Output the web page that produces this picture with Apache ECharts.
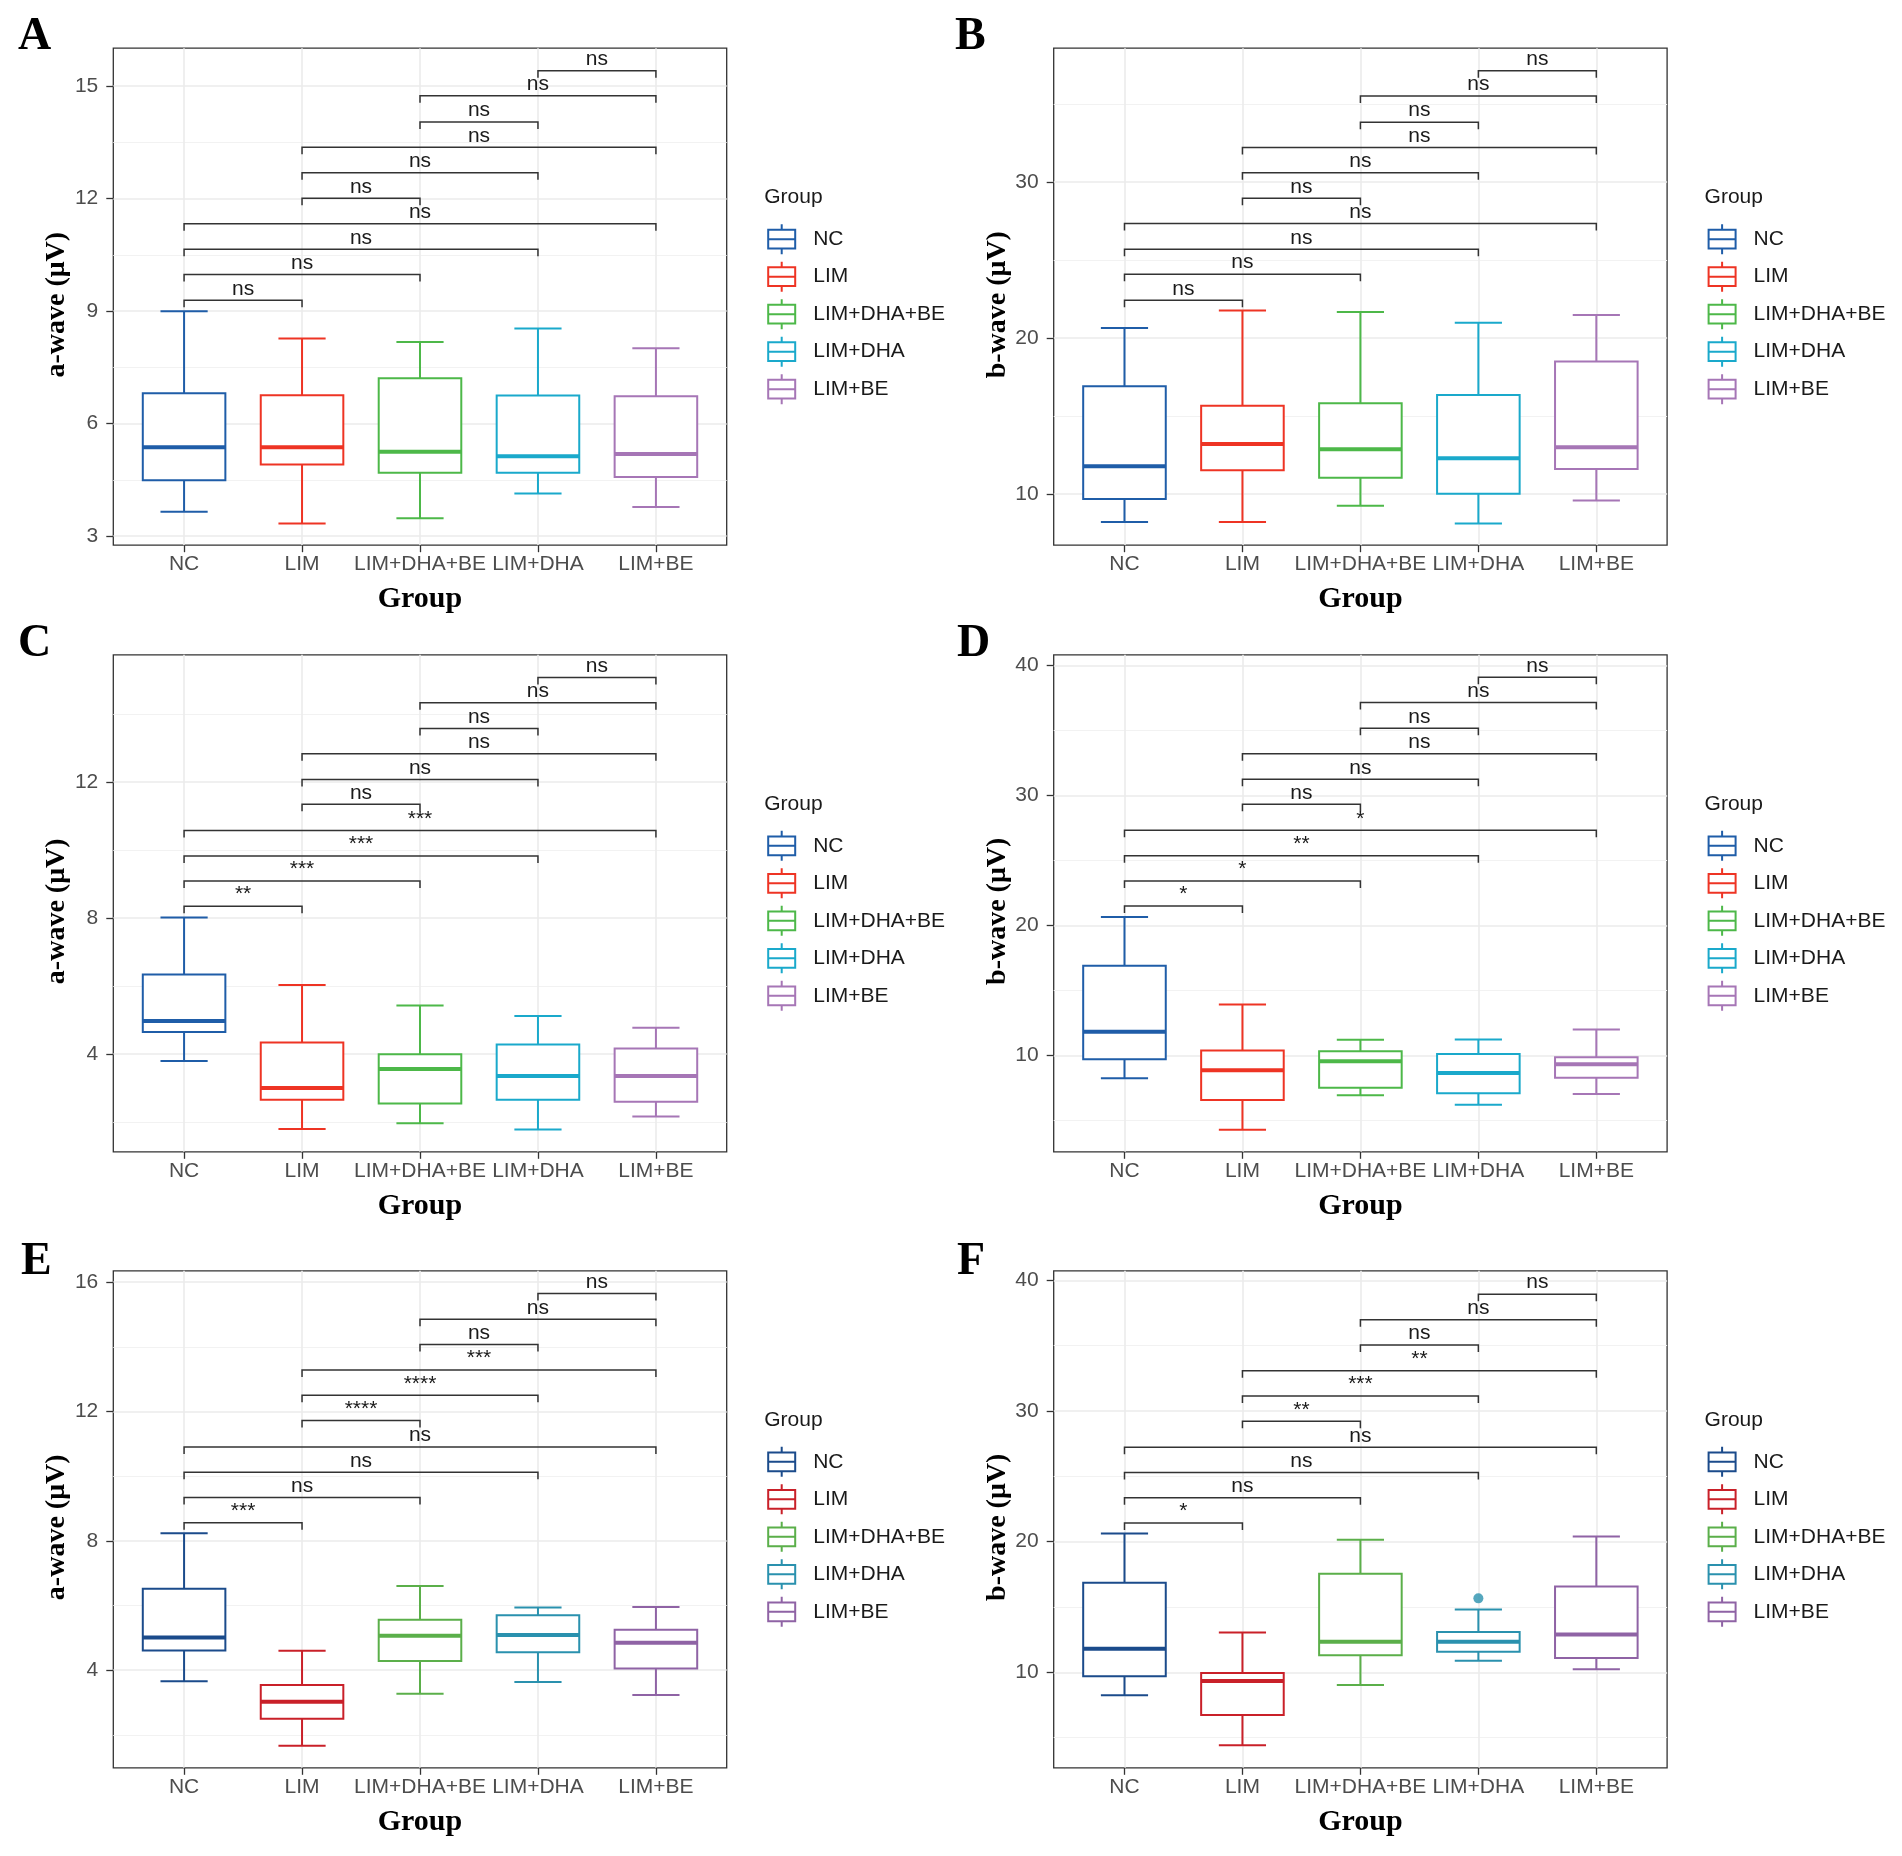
<!DOCTYPE html>
<html>
<head>
<meta charset="utf-8">
<script src="https://cdn.jsdelivr.net/npm/echarts@6/dist/echarts.min.js"></script>
<style>
html,body{margin:0;padding:0;background:#fff;}
#chart{width:1902px;height:1856px;}
</style>
</head>
<body>
<div id="chart"></div>
<script>
// ---------------- DATA ----------------
const groups = ['NC', 'LIM', 'LIM+DHA+BE', 'LIM+DHA', 'LIM+BE'];
// pairwise comparisons (1-based group positions), drawn bottom to top
const comparisons = [[1,2],[1,3],[1,4],[1,5],[2,3],[2,4],[2,5],[3,4],[3,5],[4,5]];

// box statistics per group: [min, Q1, median, Q3, max]
const boxA = [[3.65,4.49,5.37,6.81,9.00],[3.34,4.91,5.37,6.76,8.27],[3.48,4.69,5.25,7.21,8.18],[4.14,4.69,5.13,6.75,8.54],[3.78,4.58,5.19,6.73,8.01]];
const boxB = [[8.20,9.67,11.77,16.89,20.63],[8.20,11.52,13.19,15.65,21.75],[9.24,11.04,12.86,15.80,21.65],[8.10,10.00,12.28,16.33,20.96],[9.57,11.59,12.99,18.48,21.47]];
const boxC = [[3.79,4.65,4.97,6.34,8.02],[1.79,2.65,3.00,4.34,6.03],[1.96,2.54,3.56,3.99,5.43],[1.78,2.65,3.35,4.28,5.12],[2.16,2.59,3.35,4.16,4.77]];
const boxD = [[8.23,9.70,11.81,16.89,20.64],[4.27,6.56,8.84,10.37,13.91],[6.92,7.50,9.54,10.30,11.19],[6.19,7.08,8.63,10.09,11.22],[7.01,8.26,9.30,9.85,11.98]];
const boxE = [[3.66,4.61,5.01,6.52,8.23],[1.66,2.50,3.02,3.54,4.60],[3.27,4.28,5.06,5.56,6.60],[3.63,4.55,5.09,5.70,5.94],[3.23,4.05,4.85,5.25,5.95]];
const boxF = [[8.25,9.70,11.80,16.86,20.63],[4.41,6.74,9.34,9.94,13.05],[9.03,11.31,12.33,17.55,20.15],[10.88,11.57,12.33,13.08,14.80],[10.24,11.09,12.90,16.56,20.39]];

// outliers: [group position, value]
const outliersF = [[4, 15.66]];

// bracket heights (data units) for each comparison
const bracketA = [9.29,9.98,10.65,11.33,12.01,12.69,13.37,14.04,14.74,15.41];
const bracketB = [22.41,24.08,25.67,27.32,28.94,30.58,32.20,33.82,35.49,37.11];
const bracketC = [8.35,9.09,9.83,10.58,11.35,12.08,12.84,13.58,14.34,15.08];
const bracketD = [21.49,23.41,25.36,27.31,29.31,31.24,33.20,35.16,37.14,39.09];
const bracketE = [8.56,9.34,10.12,10.90,11.72,12.50,13.28,14.07,14.85,15.65];
const bracketF = [21.42,23.35,25.29,27.22,29.21,31.15,33.08,35.05,36.98,38.94];

// significance labels
const labelsA = ['ns','ns','ns','ns','ns','ns','ns','ns','ns','ns'];
const labelsB = ['ns','ns','ns','ns','ns','ns','ns','ns','ns','ns'];
const labelsC = ['**','***','***','***','ns','ns','ns','ns','ns','ns'];
const labelsD = ['*','*','**','*','ns','ns','ns','ns','ns','ns'];
const labelsE = ['***','ns','ns','ns','****','****','***','ns','ns','ns'];
const labelsF = ['*','ns','ns','ns','**','***','**','ns','ns','ns'];

// y axis ranges and ticks
const rangeA = [2.76, 16.01], ticksA = [3,6,9,12,15], minorA = [4.5,7.5,10.5,13.5];
const rangeB = [6.71, 38.56], ticksB = [10,20,30], minorB = [15,25,35];
const rangeC = [1.12, 15.75], ticksC = [4,8,12], minorC = [2,6,10,14];
const rangeD = [2.57, 40.82], ticksD = [10,20,30,40], minorD = [5,15,25,35];
const rangeE = [0.98, 16.35], ticksE = [4,8,12,16], minorE = [2,6,10,14];
const rangeF = [2.69, 40.73], ticksF = [10,20,30,40], minorF = [5,15,25,35];
const xTicks = [1,2,3,4,5];

const colorsAD = ['#1F5DA8','#EE3424','#4DB849','#1AA9CB','#A676B6'];
const colorsEF = ['#1B4B8B','#C92029','#5BAF4A','#2A91AE','#8F63A5'];

// ---------------- PANELS ----------------
const panels = [
  {id:'A', yName:'a-wave (μV)', box:boxA, br:bracketA, lab:labelsA, range:rangeA, ticks:ticksA, minor:minorA, colors:colorsAD, out:[]},
  {id:'B', yName:'b-wave (μV)', box:boxB, br:bracketB, lab:labelsB, range:rangeB, ticks:ticksB, minor:minorB, colors:colorsAD, out:[]},
  {id:'C', yName:'a-wave (μV)', box:boxC, br:bracketC, lab:labelsC, range:rangeC, ticks:ticksC, minor:minorC, colors:colorsAD, out:[]},
  {id:'D', yName:'b-wave (μV)', box:boxD, br:bracketD, lab:labelsD, range:rangeD, ticks:ticksD, minor:minorD, colors:colorsAD, out:[]},
  {id:'E', yName:'a-wave (μV)', box:boxE, br:bracketE, lab:labelsE, range:rangeE, ticks:ticksE, minor:minorE, colors:colorsEF, out:[]},
  {id:'F', yName:'b-wave (μV)', box:boxF, br:bracketF, lab:labelsF, range:rangeF, ticks:ticksF, minor:minorF, colors:colorsEF, out:outliersF}
];

// layout (pixels)
const gridPos = [
  {left:113.3, top:48.2}, {left:1053.7, top:48.2},
  {left:113.3, top:654.8}, {left:1053.7, top:654.8},
  {left:113.3, top:1270.8}, {left:1053.7, top:1270.8}
];
const GRID_W = 613.4, GRID_H = 497;
const letterPos = [{left:18, top:14},{left:955, top:14},{left:18, top:621},{left:957, top:621},{left:21, top:1239},{left:957, top:1239}];

const BOX_HALF = 0.35, CAP_HALF = 0.2, TIP = 7;
const SANS = 'Liberation Sans, Arial, sans-serif';
const SERIF = 'Liberation Serif, Times New Roman, serif';
const legendIcon = 'path://M13.5,0L13.5,5.6M0,5.6L27,5.6L27,24.4L0,24.4ZM0,15L27,15M13.5,24.4L13.5,30';

function makeBoxRenderer(color) {
  return function (params, api) {
    const x = api.value(0);
    const mn = api.value(1), q1 = api.value(2), md = api.value(3), q3 = api.value(4), mx = api.value(5);
    const tl = api.coord([x - BOX_HALF, q3]);
    const br = api.coord([x + BOX_HALF, q1]);
    const ml = api.coord([x - BOX_HALF, md]), mr = api.coord([x + BOX_HALF, md]);
    const top = api.coord([x, mx]), bot = api.coord([x, mn]);
    const cl1 = api.coord([x - CAP_HALF, mx]), cr1 = api.coord([x + CAP_HALF, mx]);
    const cl2 = api.coord([x - CAP_HALF, mn]), cr2 = api.coord([x + CAP_HALF, mn]);
    const ls = () => ({stroke: color, lineWidth: 2, fill: null});
    return {
      type: 'group',
      children: [
        {type:'line', shape:{x1:top[0], y1:top[1], x2:top[0], y2:tl[1]}, style: ls()},
        {type:'line', shape:{x1:bot[0], y1:bot[1], x2:bot[0], y2:br[1]}, style: ls()},
        {type:'line', shape:{x1:cl1[0], y1:cl1[1], x2:cr1[0], y2:cr1[1]}, style: ls()},
        {type:'line', shape:{x1:cl2[0], y1:cl2[1], x2:cr2[0], y2:cr2[1]}, style: ls()},
        {type:'rect', shape:{x:tl[0], y:tl[1], width:br[0]-tl[0], height:br[1]-tl[1]}, style:{stroke:color, lineWidth:2, fill:'#ffffff'}},
        {type:'line', shape:{x1:ml[0], y1:ml[1], x2:mr[0], y2:mr[1]}, style:{stroke:color, lineWidth:4}}
      ]
    };
  };
}

function makeBracketRenderer(labels) {
  return function (params, api) {
    const a = api.coord([api.value(0), api.value(2)]);
    const b = api.coord([api.value(1), api.value(2)]);
    const lab = labels[api.value(3)];
    return {
      type: 'group',
      children: [
        {type:'polyline', shape:{points:[[a[0], a[1] + TIP], [a[0], a[1]], [b[0], b[1]], [b[0], b[1] + TIP]]},
         style:{stroke:'#333333', lineWidth:1.5, fill:null}},
        {type:'text', style:{text: lab, x:(a[0] + b[0]) / 2, y:a[1] - 1, align:'center', verticalAlign:'bottom',
         fontSize:21, fontFamily:SANS, fill:'#1a1a1a'}}
      ]
    };
  };
}

const grid = [], xAxis = [], yAxis = [], series = [], legend = [], title = [];
const tickLine = {color:'#333333', width:1.3};
const majorGrid = {color:'#EBEBEB', width:1.6};
const minorGrid = {color:'#F2F2F2', width:1};

panels.forEach((p, i) => {
  const g = gridPos[i];
  grid.push({left:g.left, top:g.top, width:GRID_W, height:GRID_H, show:true, borderColor:'#333333', borderWidth:1.3, backgroundColor:'#ffffff', containLabel:false});
  xAxis.push({
    type:'value', gridIndex:i, min:0.4, max:5.6,
    name:'Group', nameLocation:'middle', nameGap:39,
    nameTextStyle:{fontFamily:SERIF, fontWeight:'bold', fontSize:30, color:'#000'},
    axisLine:{show:false},
    axisTick:{show:true, customValues:xTicks, length:7, lineStyle:tickLine},
    axisLabel:{customValues:xTicks, formatter:(v) => groups[Math.round(v) - 1], fontSize:21, fontFamily:SANS, color:'#4D4D4D', margin:9},
    splitLine:{show:true, lineStyle:majorGrid}
  });
  yAxis.push({
    type:'value', gridIndex:i, min:p.range[0], max:p.range[1], position:'left',
    name:p.yName, nameLocation:'middle', nameGap:41,
    nameTextStyle:{fontFamily:SERIF, fontWeight:'bold', fontSize:28, color:'#000', padding:[0,16,0,0]},
    axisLine:{show:false},
    axisTick:{show:true, customValues:p.ticks, length:7, lineStyle:tickLine},
    axisLabel:{customValues:p.ticks, fontSize:21, fontFamily:SANS, color:'#4D4D4D', margin:15},
    splitLine:{show:true, lineStyle:majorGrid}
  });
  yAxis.push({
    type:'value', gridIndex:i, min:p.range[0], max:p.range[1], position:'left',
    axisLine:{show:false},
    axisTick:{show:false, customValues:p.minor},
    axisLabel:{show:false},
    splitLine:{show:true, lineStyle:minorGrid}
  });

  const names = [];
  groups.forEach((gname, gi) => {
    const nm = p.id + '|' + gname;
    names.push(nm);
    series.push({
      type:'custom', name:nm, xAxisIndex:i, yAxisIndex:2 * i,
      itemStyle:{color:p.colors[gi], borderColor:p.colors[gi]},
      encode:{x:0, y:[1,2,3,4,5]},
      data:[[gi + 1].concat(p.box[gi])],
      renderItem:makeBoxRenderer(p.colors[gi]),
      silent:true, z:3
    });
  });
  p.out.forEach((o) => {
    series.push({
      type:'scatter', name:p.id + '|' + groups[o[0] - 1], xAxisIndex:i, yAxisIndex:2 * i,
      data:[[o[0], o[1]]], symbol:'circle', symbolSize:10,
      itemStyle:{color:p.colors[o[0] - 1]}, silent:true, z:5
    });
  });
  series.push({
    type:'custom', name:p.id + '-sig', xAxisIndex:i, yAxisIndex:2 * i,
    encode:{x:0, y:2},
    data:comparisons.map((c, k) => [c[0], c[1], p.br[k], k]),
    renderItem:makeBracketRenderer(p.lab),
    silent:true, z:4
  });

  const legLeft = g.left + GRID_W + 40.5;
  legend.push({
    orient:'vertical', left:legLeft, top:g.top + 175, padding:0,
    itemWidth:27, itemHeight:30, itemGap:5.5, icon:legendIcon,
    selectedMode:false,
    data:names,
    formatter:(n) => n.split('|')[1],
    textStyle:{fontSize:21, fontFamily:SANS, color:'#1a1a1a', padding:[0,0,0,13]},
    itemStyle:{color:'rgba(0,0,0,0)', borderColor:'inherit', borderWidth:2}
  });
  title.push({text:'Group', left:legLeft - 3, top:g.top + 139, padding:0,
    textStyle:{fontSize:21, fontFamily:SANS, fontWeight:'normal', color:'#1a1a1a'}});
  title.push({text:p.id, left:letterPos[i].left, top:letterPos[i].top, padding:0,
    textStyle:{fontSize:46, fontFamily:SERIF, fontWeight:'bold', color:'#000'}});
});

const chart = echarts.init(document.getElementById('chart'), null, {renderer:'canvas'});
chart.setOption({
  backgroundColor:'#ffffff',
  animation:false,
  title, grid, xAxis, yAxis, legend, series
});
</script>
</body>
</html>
